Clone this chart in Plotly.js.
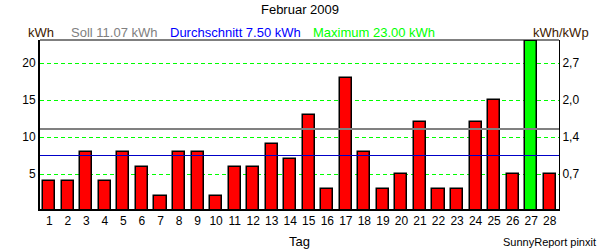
<!DOCTYPE html>
<html>
<head>
<meta charset="utf-8">
<script src="https://cdn.plot.ly/plotly-3.0.1.min.js"></script>
<style>html,body{margin:0;padding:0;background:#fff;}#chart{width:600px;height:250px;}</style>
</head>
<body>
<div id="chart"></div>
<script>
const days = [1,2,3,4,5,6,7,8,9,10,11,12,13,14,15,16,17,18,19,20,21,22,23,24,25,26,27,28];
const kwh = [4,4,8,4,8,6,2,8,8,2,6,6,9,7,13,3,18,8,3,5,12,3,3,12,15,5,23,5];
const soll = 11.07;
const durchschnitt = 7.50;
const maximum = 23.00;
const leftTicks = [5,10,15,20];
const rightTickLabels = ['0,7','1,4','2,0','2,7'];
const monthTitle = 'Februar 2009';

const FONT = '"Liberation Sans", Arial, sans-serif';
const maxVal = Math.max.apply(null, kwh);
const colors = kwh.map(v => v === maxVal ? '#00ff00' : '#ff0000');

const data = [{
  type: 'bar',
  x: days,
  y: kwh,
  width: 0.65,
  marker: {color: colors, line: {color: '#000000', width: 1.5}},
  hoverinfo: 'x+y'
}, {
  type: 'scatter', mode: 'none', x: [days[0]], y: [kwh[0]], yaxis: 'y2', hoverinfo: 'skip', showlegend: false
}];

const yr = [0.27, 23.11];
const layout = {
  width: 600, height: 250,
  margin: {l: 40, r: 41, t: 40, b: 41},
  paper_bgcolor: '#ffffff', plot_bgcolor: '#ffffff',
  showlegend: false,
  font: {family: FONT, size: 12, color: '#000000'},
  title: {text: monthTitle, font: {family: FONT, size: 13, color: '#000000'}, x: 0.5, xanchor: 'center', y: 1 - 9/250, yanchor: 'middle', yref: 'container'},
  bargap: 0,
  xaxis: {
    range: [0.5, 28.5], tickmode: 'array', tickvals: days, ticktext: days.map(String),
    showgrid: false, zeroline: false, showline: true, linecolor: '#000000', linewidth: 2,
    ticks: '', tickfont: {family: FONT, size: 12, color: '#000000'}, fixedrange: true
  },
  yaxis: {
    range: yr, tickmode: 'array', tickvals: leftTicks, ticktext: leftTicks.map(String),
    showgrid: true, gridcolor: '#00ff00', gridwidth: 1, griddash: '4px,3px',
    zeroline: false, showline: true, linecolor: '#000000', linewidth: 2,
    ticks: '', tickfont: {family: FONT, size: 12, color: '#000000'}, fixedrange: true
  },
  yaxis2: {
    overlaying: 'y', side: 'right', range: yr, tickmode: 'array', tickvals: leftTicks, ticktext: rightTickLabels,
    showgrid: false, zeroline: false, showline: true, linecolor: '#000000', linewidth: 1,
    ticks: '', tickfont: {family: FONT, size: 12, color: '#000000'}, fixedrange: true
  },
  shapes: [
    {type: 'line', xref: 'paper', yref: 'paper', x0: 0, x1: 1, y0: 1, y1: 1, line: {color: '#000000', width: 1}},
    {type: 'line', xref: 'paper', yref: 'y', x0: 0, x1: 1, y0: soll, y1: soll, line: {color: '#808080', width: 2}, layer: 'above'},
    {type: 'line', xref: 'paper', yref: 'y', x0: 0, x1: 1, y0: durchschnitt, y1: durchschnitt, line: {color: '#0000c8', width: 1}, layer: 'above'}
  ],
  annotations: [
    {xref: 'paper', yref: 'paper', x: -0.027, y: 1.047, xanchor: 'left', yanchor: 'middle', showarrow: false, text: 'kWh', font: {family: FONT, size: 13, color: '#402000'}},
    {xref: 'paper', yref: 'paper', x: 0.056, y: 1.047, xanchor: 'left', yanchor: 'middle', showarrow: false, text: 'Soll ' + soll.toFixed(2) + ' kWh', font: {family: FONT, size: 13, color: '#808080'}},
    {xref: 'paper', yref: 'paper', x: 0.247, y: 1.047, xanchor: 'left', yanchor: 'middle', showarrow: false, text: 'Durchschnitt ' + durchschnitt.toFixed(2) + ' kWh', font: {family: FONT, size: 13, color: '#0000ff'}},
    {xref: 'paper', yref: 'paper', x: 0.522, y: 1.047, xanchor: 'left', yanchor: 'middle', showarrow: false, text: 'Maximum ' + maximum.toFixed(2) + ' kWh', font: {family: FONT, size: 13, color: '#00ff00'}},
    {xref: 'paper', yref: 'paper', x: 0.946, y: 1.047, xanchor: 'left', yanchor: 'middle', showarrow: false, text: 'kWh/kWp', font: {family: FONT, size: 13, color: '#402000'}},
    {xref: 'paper', yref: 'paper', x: 0.5, y: -0.195, xanchor: 'center', yanchor: 'middle', showarrow: false, text: 'Tag', font: {family: FONT, size: 13, color: '#000000'}},
    {xref: 'paper', yref: 'paper', x: 1.075, y: -0.195, xanchor: 'right', yanchor: 'middle', showarrow: false, text: 'SunnyReport pinxit', font: {family: FONT, size: 11, color: '#000000'}}
  ]
};

Plotly.newPlot('chart', data, layout, {displayModeBar: false, staticPlot: false});
</script>
</body>
</html>
